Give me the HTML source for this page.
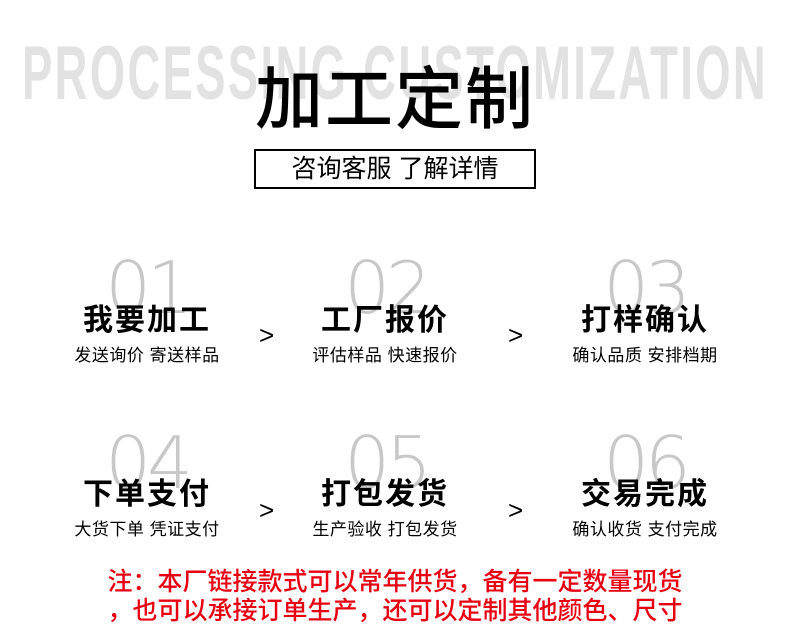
<!DOCTYPE html>
<html><head><meta charset="utf-8"><style>
html,body{margin:0;padding:0;background:#fff;}
body{width:790px;height:639px;position:relative;overflow:hidden;font-family:"Liberation Sans","Noto Sans CJK SC",sans-serif;}
.a{position:absolute;white-space:nowrap;}
.en{left:22px;top:36px;font-family:"Liberation Sans Narrow","Liberation Sans",sans-serif;font-weight:bold;font-size:76px;color:#e2e2e2;letter-spacing:4px;transform-origin:0 0;line-height:76px;}
.title{left:0;width:790px;text-align:center;top:60px;font-size:68px;line-height:80px;color:#000;font-weight:500;letter-spacing:2px;}
.box{left:254px;top:149px;width:278px;height:36px;border:2px solid #000;text-align:center;font-size:25px;line-height:36px;}
.num{font-size:72px;color:#c8c8c8;font-weight:300;line-height:72px;width:200px;text-align:center;font-family:"DejaVu Sans","Liberation Sans",sans-serif;letter-spacing:-4px;}
.h{font-size:30px;font-weight:bold;width:240px;text-align:center;line-height:36px;color:#000;letter-spacing:2px;}
.s{font-size:17px;width:240px;text-align:center;line-height:20px;color:#000;letter-spacing:0.5px;}
.gt{font-size:26px;color:#000;line-height:26px;}
.red{left:0;width:790px;text-align:center;color:#e60012;font-size:25px;line-height:28px;font-weight:500;}
</style></head><body>
<div class="a en" id="en">PROCESSING CUSTOMIZATION</div>
<div class="a title">加工定制</div>
<div class="a box">咨询客服 了解详情</div>

<div class="a num" style="left:47px;top:252px">01</div>
<div class="a num" style="left:286px;top:252px">02</div>
<div class="a num" style="left:545px;top:252px">03</div>
<div class="a h" style="left:27px;top:303px">我要加工</div>
<div class="a h" style="left:265px;top:303px">工厂报价</div>
<div class="a h" style="left:525px;top:303px">打样确认</div>
<div class="a s" style="left:27px;top:346px">发送询价 寄送样品</div>
<div class="a s" style="left:265px;top:346px">评估样品 快速报价</div>
<div class="a s" style="left:525px;top:346px">确认品质 安排档期</div>
<div class="a gt" style="left:259px;top:322px">&gt;</div>
<div class="a gt" style="left:508px;top:322px">&gt;</div>

<div class="a num" style="left:47px;top:427px">04</div>
<div class="a num" style="left:286px;top:427px">05</div>
<div class="a num" style="left:545px;top:427px">06</div>
<div class="a h" style="left:27px;top:477px">下单支付</div>
<div class="a h" style="left:265px;top:477px">打包发货</div>
<div class="a h" style="left:525px;top:477px">交易完成</div>
<div class="a s" style="left:27px;top:520px">大货下单 凭证支付</div>
<div class="a s" style="left:265px;top:520px">生产验收 打包发货</div>
<div class="a s" style="left:525px;top:520px">确认收货 支付完成</div>
<div class="a gt" style="left:259px;top:497px">&gt;</div>
<div class="a gt" style="left:508px;top:497px">&gt;</div>

<div class="a red" style="top:568px">注：本厂链接款式可以常年供货，备有一定数量现货</div>
<div class="a red" style="top:597px">，也可以承接订单生产，还可以定制其他颜色、尺寸</div>
<script>
var e=document.getElementById('en');var w=e.getBoundingClientRect().width;e.style.transform='scale('+(746/w)+',1.0)';
</script>
</body></html>
